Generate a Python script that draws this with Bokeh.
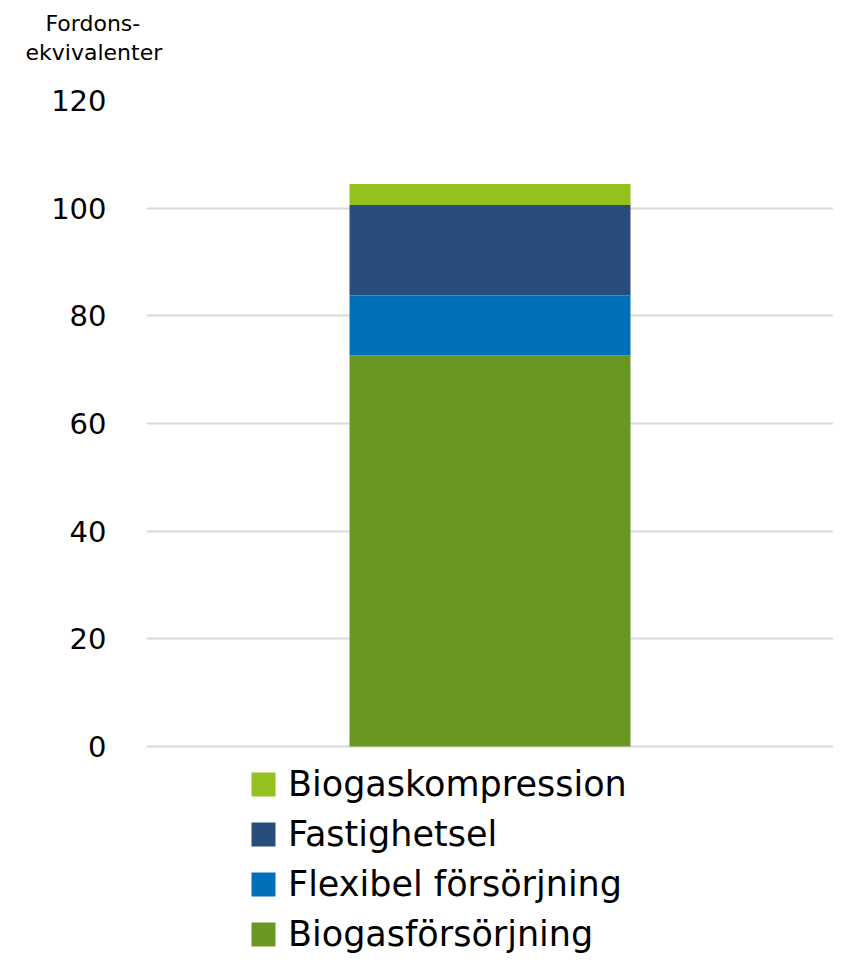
from bokeh.plotting import figure
from bokeh.models import ColumnDataSource, Legend, LegendItem, Title, FactorRange, Range1d, FixedTicker
from bokeh.embed import file_html
from bokeh.resources import INLINE

# ---- data ----
categories = ["Totalt"]
series_names = ["Biogasförsörjning", "Flexibel försörjning", "Fastighetsel", "Biogaskompression"]
biogasforsorjning = [72.7]
flexibel_forsorjning = [11.1]
fastighetsel = [16.8]
biogaskompression = [3.9]
y_ticks = [0, 20, 40, 60, 80, 100, 120]
y_title_lines = ["Fordons-", "ekvivalenter"]

colors = ["#6A9721", "#0070BA", "#294D7A", "#95C11F"]
FONT = "DejaVu Sans"

source = ColumnDataSource(dict(
    cat=categories,
    s0=biogasforsorjning,
    s1=flexibel_forsorjning,
    s2=fastighetsel,
    s3=biogaskompression,
))

# frame: 120 at y=100px, 0 at y=746px; frame extends to the bottom (legend lives there)
px_per_unit = 646 / 120.0
y_bottom = -(954 - 746) / px_per_unit

p = figure(
    width=838, height=954,
    x_range=FactorRange(factors=categories, range_padding=0),
    y_range=Range1d(y_bottom, 120),
    output_backend="svg", toolbar_location=None,
    x_axis_location=None,
    min_border_left=146, min_border_right=5, min_border_top=100, min_border_bottom=0,
)
p.outline_line_color = None
p.background_fill_color = "white"
p.border_fill_color = "white"

renderers = p.vbar_stack(["s0", "s1", "s2", "s3"], x="cat", width=0.409, source=source,
                         color=colors, line_color=None)

p.xgrid.visible = False
p.ygrid.grid_line_color = "#D9D9D9"
p.ygrid.grid_line_width = 2
p.ygrid.ticker = FixedTicker(ticks=y_ticks)

ax = p.yaxis[0]
ax.ticker = FixedTicker(ticks=y_ticks)
ax.axis_line_color = None
ax.major_tick_line_color = None
ax.minor_tick_line_color = None
ax.major_tick_out = 0
ax.major_tick_in = 0
ax.major_label_standoff = 40
ax.major_label_text_font = FONT
ax.major_label_text_font_size = "29px"
ax.major_label_text_color = "#000000"

items = [LegendItem(label=series_names[i], renderers=[renderers[i]]) for i in [3, 2, 1, 0]]
legend = Legend(items=items, location=(102, 0), orientation="vertical",
                padding=0, margin=0, spacing=10, label_height=40,
                glyph_height=30, glyph_width=30, label_standoff=10,
                label_text_font=FONT, label_text_font_size="35px",
                label_text_color="#000000", border_line_alpha=0,
                background_fill_alpha=0)
p.add_layout(legend, "center")

# y-axis title, two lines above the axis (first added = nearest the frame)
for txt, off, so in [(y_title_lines[1], -121, 72), (y_title_lines[0], -101, -68)]:
    p.add_layout(Title(text=txt, align="left", offset=off, standoff=so,
                       text_font=FONT, text_font_size="22px", text_font_style="normal",
                       text_color="#000000"), "above")

open("out.html", "w").write(file_html(p, INLINE))
